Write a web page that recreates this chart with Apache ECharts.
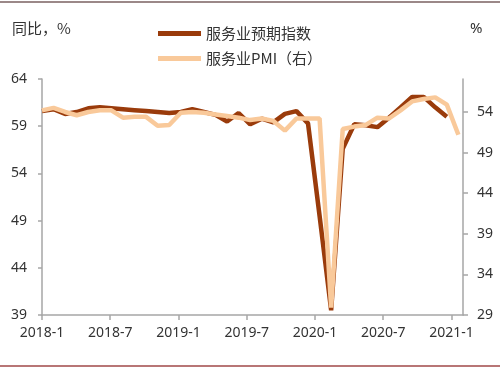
<!DOCTYPE html>
<html>
<head>
<meta charset="utf-8">
<script src="https://cdn.jsdelivr.net/npm/echarts@6/dist/echarts.min.js"></script>
<style>html,body{margin:0;padding:0;background:#fff;}#c{width:500px;height:369px;}</style>
</head>
<body>
<div id="c"></div>
<script>
// months (index 0 = 2018-1)
const months = ['2018-1','2018-2','2018-3','2018-4','2018-5','2018-6','2018-7','2018-8','2018-9','2018-10','2018-11','2018-12',
  '2019-1','2019-2','2019-3','2019-4','2019-5','2019-6','2019-7','2019-8','2019-9','2019-10','2019-11','2019-12',
  '2020-1','2020-2','2020-3','2020-4','2020-5','2020-6','2020-7','2020-8','2020-9','2020-10','2020-11','2020-12','2021-1'];
const expectIndex = [60.6,60.8,60.3,60.5,60.9,61.0,60.9,60.8,60.7,60.6,60.5,60.4,
  60.5,60.8,60.5,60.2,59.5,60.4,59.2,59.8,59.4,60.3,60.6,59.3,
  49.5,39.5,56.6,59.2,59.1,58.9,59.9,61.0,62.1,62.1,61.0,60.0,null];
const servicePMI = [54.2,54.5,54.0,53.6,54.0,54.2,54.2,53.3,53.4,53.4,52.3,52.4,
  53.9,54.0,53.9,53.7,53.5,53.3,53.0,53.2,52.9,51.7,53.2,53.2,
  53.2,29.9,51.9,52.2,52.4,53.3,53.2,54.2,55.3,55.6,55.8,54.9,51.2];
const xTickLabels = ['2018-1','2018-7','2019-1','2019-7','2020-1','2020-7','2021-1'];
const leftTicks = [39,44,49,54,59,64];
const rightTicks = [29,34,39,44,49,54];
const seriesNames = ['服务业预期指数','服务业PMI（右）'];

const TICK_STEP = 5.9;
const toPairs = arr => arr.map((v,i) => [i, v]);
const fontFam = '"Noto Sans", "Noto Sans CJK SC", sans-serif';
const axisColor = '#a6a6a6';

const chart = echarts.init(document.getElementById('c'), null, {renderer:'canvas'});
chart.setOption({
  animation: false,
  backgroundColor: '#fff',
  textStyle: {fontFamily: fontFam},
  grid: {left: 42, right: 37, top: 79, bottom: 54},
  legend: {
    orient: 'vertical', left: 153, top: 21, itemGap: 10,
    itemWidth: 43, itemHeight: 5, icon: 'rect',
    textStyle: {fontSize: 15, color: '#333', fontFamily: '"Noto Sans CJK SC", sans-serif'},
    data: seriesNames
  },
  xAxis: {
    type: 'value', min: 0, max: 36.4, interval: TICK_STEP,
    axisLine: {show: true, lineStyle: {color: axisColor, width: 1.5}},
    axisTick: {show: true, length: 5, lineStyle: {color: axisColor, width: 1.5}, customValues: xTickLabels.map((_, k) => k * TICK_STEP)},
    axisLabel: {
      customValues: xTickLabels.map((_, k) => k * TICK_STEP),
      formatter: v => { const k = Math.round(v / TICK_STEP); return Math.abs(v - k*TICK_STEP) < 0.01 ? (xTickLabels[k] || '') : ''; },
      fontSize: 14, color: '#333', margin: 11
    },
    splitLine: {show: false}
  },
  yAxis: [
    {
      type: 'value', min: leftTicks[0], max: leftTicks[leftTicks.length-1], interval: 5, position: 'left',
      axisLine: {show: true, lineStyle: {color: axisColor, width: 1.5}},
      axisTick: {show: true, length: 4, lineStyle: {color: axisColor, width: 1.5}},
      axisLabel: {fontSize: 14, color: '#333', margin: 15},
      splitLine: {show: false}
    },
    {
      type: 'value', min: rightTicks[0], max: 58.06, interval: 5, position: 'right',
      axisLine: {show: true, lineStyle: {color: axisColor, width: 1.5}},
      axisTick: {show: true, length: 5, lineStyle: {color: axisColor, width: 1.5}, customValues: rightTicks},
      axisLabel: {fontSize: 14, color: '#333', margin: 14, customValues: rightTicks},
      splitLine: {show: false}
    }
  ],
  series: [
    {
      name: seriesNames[0], type: 'line', yAxisIndex: 0, data: toPairs(expectIndex),
      showSymbol: false, symbol: 'none', connectNulls: false,
      lineStyle: {color: '#9a3b0b', width: 4.5}, itemStyle: {color: '#9a3b0b'}, z: 2
    },
    {
      name: seriesNames[1], type: 'line', yAxisIndex: 1, data: toPairs(servicePMI),
      showSymbol: false, symbol: 'none',
      lineStyle: {color: '#f9c99a', width: 4.5}, itemStyle: {color: '#f9c99a'}, z: 3
    }
  ],
  graphic: [
    {type: 'line', shape: {x1: 0, y1: 2, x2: 500, y2: 2}, style: {stroke: '#9b8888', lineWidth: 2}},
    {type: 'line', shape: {x1: 0, y1: 366, x2: 500, y2: 366}, style: {stroke: '#a04848', lineWidth: 1.5}},
    {type: 'text', left: 12, top: 21, style: {text: '同比，%', fontSize: 15, fill: '#333', fontFamily: '"Noto Sans CJK SC", sans-serif'}},
    {type: 'text', left: 470, top: 21, style: {text: '%', fontSize: 15, fill: '#333', fontFamily: fontFam}}
  ]
});
</script>
</body>
</html>
